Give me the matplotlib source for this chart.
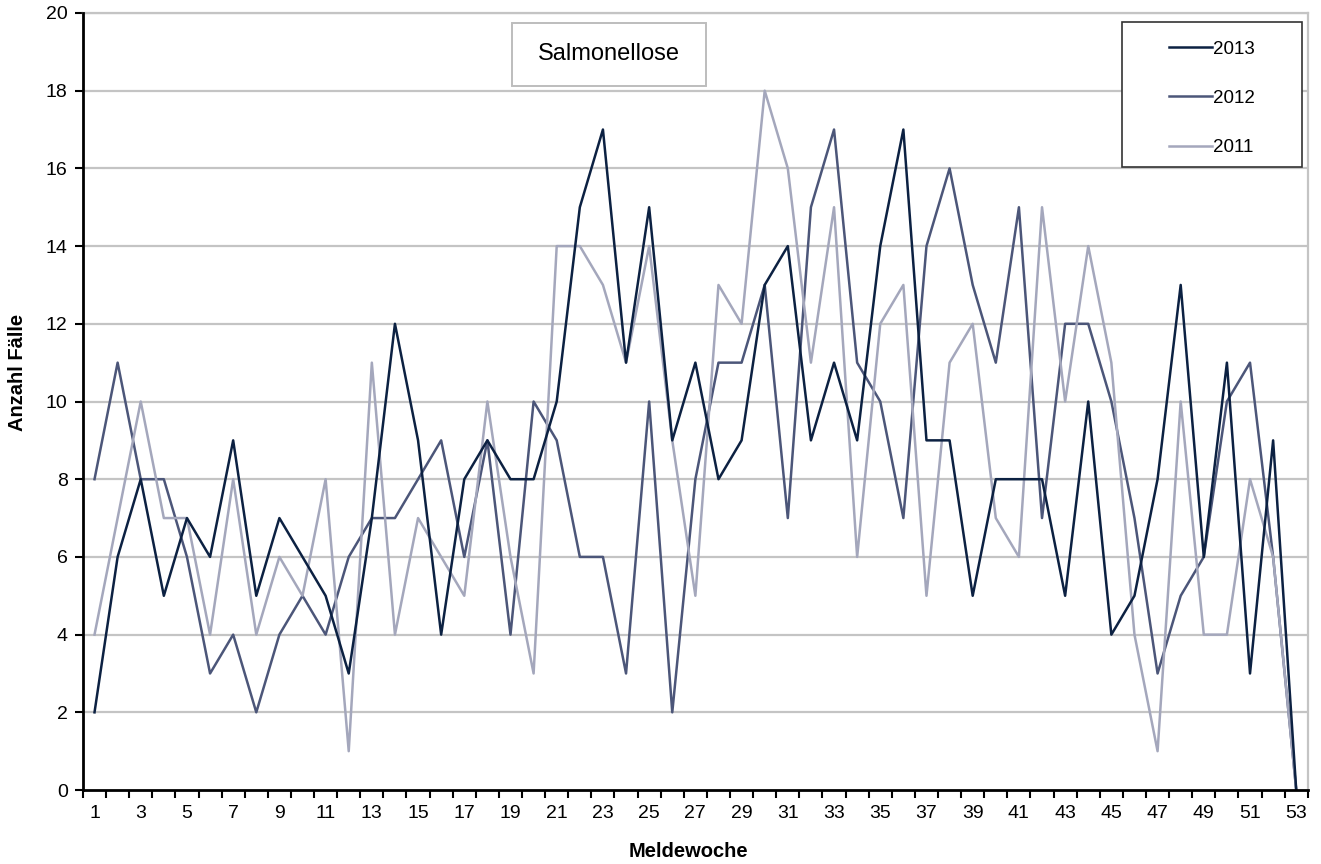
import matplotlib
matplotlib.use("Agg")
import matplotlib.pyplot as plt
from matplotlib.patches import Rectangle
import numpy as np

plt.rcParams['font.family'] = ['Liberation Sans', 'DejaVu Sans']

# Meldewochen 1..53
weeks = list(range(1, 54))

cases_2013 = [2, 6, 8, 5, 7, 6, 9, 5, 7, 6, 5, 3, 7, 12, 9, 4, 8, 9, 8, 8,
              10, 15, 17, 11, 15, 9, 11, 8, 9, 13, 14, 9, 11, 9, 14, 17, 9, 9, 5, 8,
              8, 8, 5, 10, 4, 5, 8, 13, 6, 11, 3, 9, 0]
cases_2012 = [8, 11, 8, 8, 6, 3, 4, 2, 4, 5, 4, 6, 7, 7, 8, 9, 6, 9, 4, 10,
              9, 6, 6, 3, 10, 2, 8, 11, 11, 13, 7, 15, 17, 11, 10, 7, 14, 16, 13, 11,
              15, 7, 12, 12, 10, 7, 3, 5, 6, 10, 11, 6, 0]
cases_2011 = [4, 7, 10, 7, 7, 4, 8, 4, 6, 5, 8, 1, 11, 4, 7, 6, 5, 10, 6, 3,
              14, 14, 13, 11, 14, 9, 5, 13, 12, 18, 16, 11, 15, 6, 12, 13, 5, 11, 12, 7,
              6, 15, 10, 14, 11, 4, 1, 10, 4, 4, 8, 6, 0]

series_labels = ['2013', '2012', '2011']
series_colors = ['#0c2142', '#4c5679', '#a4a7bc']
y_ticks = list(range(0, 21, 2))
x_labels = [str(w) for w in weeks if w % 2 == 1]

fig = plt.figure(figsize=(13.21, 8.64), dpi=100)
ax = fig.add_axes([0.0628, 0.0856, 0.9272, 0.8994])

grid_color = '#c4c4c4'
for y in y_ticks[1:]:
    ax.axhline(y, color=grid_color, lw=1.6, zorder=1)

lines = []
for vals, lab, col in zip([cases_2013, cases_2012, cases_2011], series_labels, series_colors):
    ln, = ax.plot(weeks, vals, color=col, lw=1.8, label=lab, zorder=3)
    lines.append(ln)
# 2013 on top
lines[0].set_zorder(4)

ax.set_xlim(0.5, 53.5)
ax.set_ylim(0, 20)
ax.set_yticks(y_ticks)
ax.set_xticks([w for w in weeks if w % 2 == 1])
ax.set_xticklabels(x_labels)
ax.set_xticks(np.arange(0.5, 54, 1), minor=True)
ax.tick_params(axis='x', which='major', length=0, labelsize=14, pad=11)
ax.tick_params(axis='x', which='minor', length=6, width=1.5, color='black', direction='out')
ax.tick_params(axis='y', length=6, width=1.5, color='black', labelsize=14, pad=5)

ax.spines['left'].set_color('black')
ax.spines['left'].set_linewidth(2)
ax.spines['bottom'].set_color('black')
ax.spines['bottom'].set_linewidth(2)
ax.spines['right'].set_color(grid_color)
ax.spines['right'].set_linewidth(1.6)
ax.spines['top'].set_color(grid_color)
ax.spines['top'].set_linewidth(1.6)
ax.spines['left'].set_zorder(5)
ax.spines['bottom'].set_zorder(5)

ax.set_xlabel('Meldewoche', fontsize=14.5, fontweight='bold')
ax.set_ylabel('Anzahl Fälle', fontsize=14.5, fontweight='bold')
ax.xaxis.set_label_coords(0.494, -0.0785)
ax.xaxis.label.set_verticalalignment('center')
ax.yaxis.set_label_coords(-0.0535, 0.538)
ax.yaxis.label.set_verticalalignment('center')

# title box
ax.add_patch(Rectangle((0.350, 0.906), 0.1586, 0.081, transform=ax.transAxes,
                       facecolor='white', edgecolor='#bdbdbd', lw=1.4, zorder=6))
ax.text(0.429, 0.947, 'Salmonellose', transform=ax.transAxes, ha='center',
        va='center', fontsize=17, zorder=7)

# legend box
ax.add_patch(Rectangle((0.848, 0.802), 0.147, 0.186, transform=ax.transAxes,
                       facecolor='white', edgecolor='#333333', lw=1.2, zorder=6))
leg = ax.legend(loc='center', bbox_to_anchor=(0.848, 0.797, 0.147, 0.186),
                frameon=False, fontsize=13.5, handlelength=2.3, handletextpad=0.05,
                labelspacing=1.72, borderaxespad=0)
leg.set_zorder(7)

fig.savefig('out.png', dpi=100)
